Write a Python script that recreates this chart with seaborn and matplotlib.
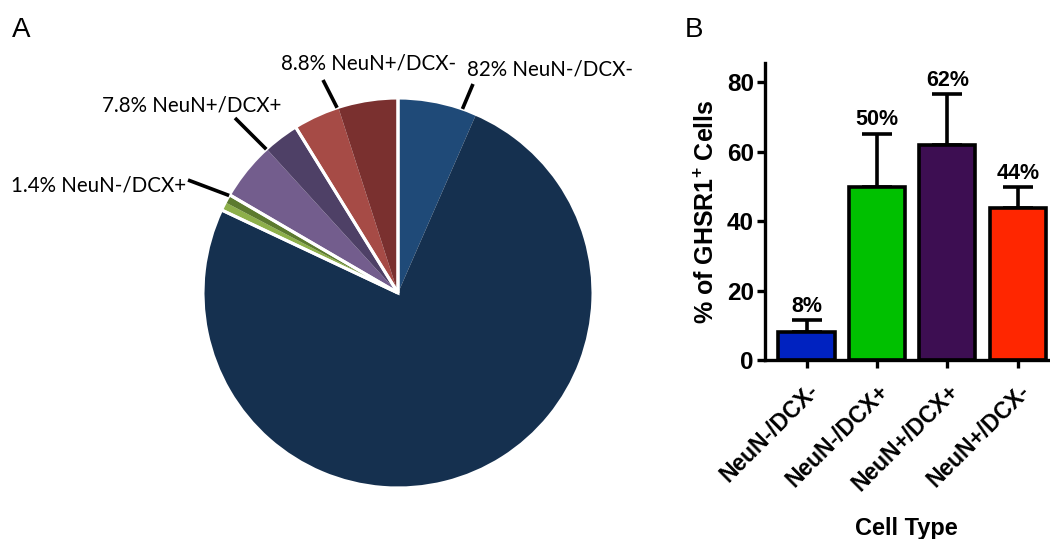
import matplotlib
matplotlib.use("Agg")
import matplotlib.pyplot as plt
import seaborn as sns
import numpy as np
import pandas as pd

# ---- data ----
pie_groups = ["NeuN-/DCX-", "NeuN-/DCX+", "NeuN+/DCX+", "NeuN+/DCX-"]
pie_shares = [82.0, 1.4, 7.8, 8.8]
pie_labels = ["82% NeuN-/DCX-", "1.4% NeuN-/DCX+", "7.8% NeuN+/DCX+", "8.8% NeuN+/DCX-"]
pie_light = ["#1F4A78", "#8DAF4A", "#735D8D", "#A64B46"]
pie_dark = ["#15304F", "#5C7A2F", "#4E4066", "#7A302F"]

bar_cats = ["NeuN-/DCX-", "NeuN-/DCX+", "NeuN+/DCX+", "NeuN+/DCX-"]
bar_vals = [8.0, 49.7, 62.0, 43.7]
bar_err = [3.5, 15.5, 14.5, 6.0]
bar_text = ["8%", "50%", "62%", "44%"]
bar_colors = ["#0022C0", "#00C000", "#3D0E52", "#FF2600"]
yticks = [0, 20, 40, 60, 80]

sns.set_theme(style="white")
plt.rcParams["mathtext.fontset"] = "custom"
plt.rcParams["mathtext.rm"] = "Liberation Sans"
plt.rcParams["mathtext.bf"] = "Liberation Sans:bold"
for k in ["text.color", "axes.labelcolor", "xtick.color", "ytick.color"]:
    plt.rcParams[k] = "black"

W, H = 1050, 539
fig = plt.figure(figsize=(W / 100, H / 100), dpi=100)

# ---- pie (panel A) ----
axp = fig.add_axes([0, 0, 0.66, 1])
sub_vals, sub_cols = [], []
for s, p, lc, dc in zip(pie_shares, bar_vals, pie_light, pie_dark):
    sub_vals += [s * p / 100.0, s * (1 - p / 100.0)]
    sub_cols += [lc, dc]
axp.pie(sub_vals, colors=sub_cols, startangle=90, counterclock=False,
        radius=1, wedgeprops=dict(linewidth=0))
axp.pie(pie_shares, startangle=90, counterclock=False, radius=1,
        wedgeprops=dict(fill=False, edgecolor="white", linewidth=2.2))

R = 195.0
cx, cy = 398.0, 293.0
axw, axh = 0.66 * W, H
axp.set_xlim(-cx / R, (axw - cx) / R)
axp.set_ylim(-(axh - cy) / R, cy / R)
axp.set_aspect("auto")
axp.axis("off")


def px(x, y):
    return ((x - cx) / R, (cy - y) / R)


pie_font = dict(family="Lato", fontsize=14.8, color="black")
label_pos = [(467, 70, "left"), (186, 186, "right"), (281, 106, "right"), (456, 63, "right")]
leader_ang = [19.3, -60.0, -42.5, -18.2]
leader_end = [(473, 84), (188, 180), (235, 118), (323, 80)]
for lab, (lx, ly, ha), ang, (ex, ey) in zip(pie_labels, label_pos, leader_ang, leader_end):
    a = np.deg2rad(ang)
    sx, sy = np.sin(a), np.cos(a)
    axp.plot([sx, (ex - cx) / R], [sy, (cy - ey) / R], color="black", lw=2.6,
             solid_capstyle="butt")
    tx, ty = px(lx, ly)
    axp.text(tx, ty, lab, ha=ha, va="center", **pie_font)

fig.text(12 / W, 1 - 30 / H, "A", fontsize=20, family="Liberation Sans", va="center")
fig.text(685 / W, 1 - 30 / H, "B", fontsize=20, family="Liberation Sans", va="center")

# ---- bar chart (panel B) ----
left, bottom, top, right = 765, 360, 63, 1048
axb = fig.add_axes([left / W, 1 - bottom / H, (right - left) / W, (bottom - top) / H])
df = pd.DataFrame({"cat": bar_cats, "val": bar_vals})
sns.barplot(data=df, x="cat", y="val", hue="cat", palette=bar_colors, saturation=1,
            width=0.8, edgecolor="black", linewidth=2.6, legend=False, ax=axb, zorder=2)
xs = np.arange(len(bar_cats))
axb.errorbar(xs, bar_vals, yerr=[np.zeros(len(bar_err)), bar_err], fmt="none",
             ecolor="black", elinewidth=2.6, capsize=11, capthick=2.6, zorder=1)
for x, v, e, t in zip(xs, bar_vals, bar_err, bar_text):
    axb.text(x, v + e + 1.0, t, ha="center", va="bottom", fontsize=15.5,
             fontweight="bold", family="Liberation Sans")

bold = dict(fontweight="bold", family="Liberation Sans")
axb.set_ylim(0, 85.5)
axb.set_xlim(-0.59, 3.43)
axb.set_yticks(yticks)
axb.set_yticklabels([str(t) for t in yticks], fontsize=17.5, **bold)
axb.set_xticks(xs)
axb.set_xticklabels(bar_cats, rotation=45, ha="right", rotation_mode="anchor",
                    fontsize=16.5, **bold)
axb.tick_params(axis="both", direction="out", length=6, width=2.4, color="black",
                left=True, bottom=True, pad=2)
axb.tick_params(axis="x", pad=8)
for s in ["top", "right"]:
    axb.spines[s].set_visible(False)
for s in ["left", "bottom"]:
    axb.spines[s].set_linewidth(2.4)
    axb.spines[s].set_color("black")
axb.set_ylabel(r"% of GHSR$\mathbf{1^{+}}$ Cells", fontsize=18, labelpad=6, **bold)
axb.set_xlabel("Cell Type", fontsize=17, labelpad=16, **bold)
axb.grid(False)

fig.savefig("out.png", dpi=100)
